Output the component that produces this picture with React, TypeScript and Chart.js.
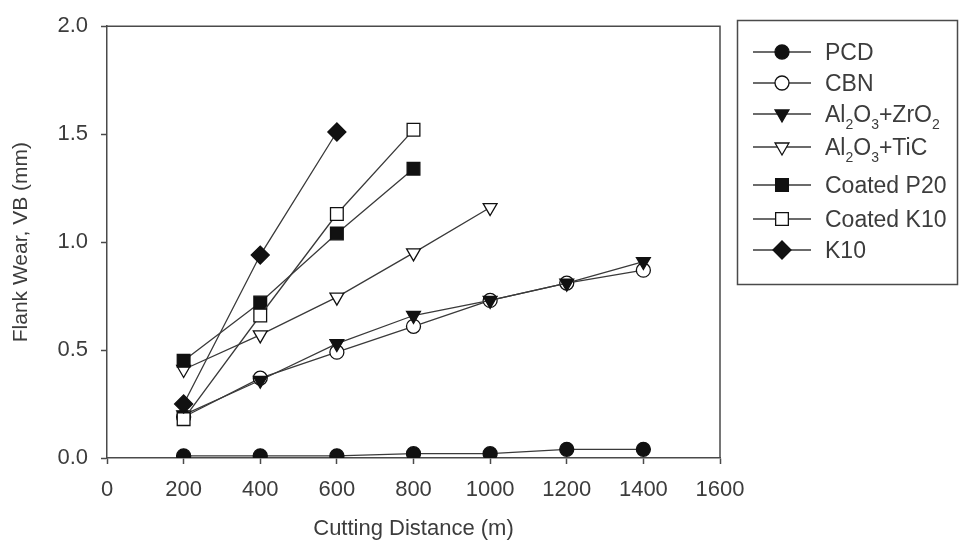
import React, { useEffect, useRef } from 'react';
import { Chart, registerables } from 'chart.js';

Chart.register(...registerables);

// ---------- data ----------
const distances = [200, 400, 600, 800, 1000, 1200, 1400];
const pcdWear = [0.01, 0.01, 0.01, 0.02, 0.02, 0.04, 0.04];
const cbnWear = [0.19, 0.37, 0.49, 0.61, 0.73, 0.81, 0.87];
const zro2Wear = [0.2, 0.36, 0.53, 0.66, 0.73, 0.81, 0.91];
const ticWear = [0.41, 0.57, 0.745, 0.95, 1.16];
const p20Wear = [0.45, 0.72, 1.04, 1.34];
const coatedK10Wear = [0.18, 0.66, 1.13, 1.52];
const k10Wear = [0.25, 0.94, 1.51];
const seriesNames = ['PCD', 'CBN', 'Al₂O₃+ZrO₂', 'Al₂O₃+TiC', 'Coated P20', 'Coated K10', 'K10'];
const xTickValues = [0, 200, 400, 600, 800, 1000, 1200, 1400, 1600];
const yTickValues = [0, 0.5, 1.0, 1.5, 2.0];
const xTitle = 'Cutting Distance (m)';
const yTitle = 'Flank Wear, VB (mm)';

// ---------- styles ----------
const FONT = "'Liberation Sans', Arial, Helvetica, sans-serif";
const TEXT = '#3c3c3c';
const AXIS = '#4a4a4a';
const LINE = '#3a3a3a';
const INK = '#111111';
const legendRowY = [52, 83, 114, 147, 185, 219, 250];

type Marker = { style: string; rot: number; r: number; filled: boolean };
const markers: Marker[] = [
  { style: 'circle', rot: 0, r: 7, filled: true },
  { style: 'circle', rot: 0, r: 7, filled: false },
  { style: 'triangle', rot: 180, r: 8, filled: true },
  { style: 'triangle', rot: 180, r: 8, filled: false },
  { style: 'rect', rot: 0, r: 9, filled: true },
  { style: 'rect', rot: 0, r: 9, filled: false },
  { style: 'rectRot', rot: 0, r: 9, filled: true },
];
const seriesValues = [pcdWear, cbnWear, zro2Wear, ticWear, p20Wear, coatedK10Wear, k10Wear];

function drawMarker(ctx: CanvasRenderingContext2D, m: Marker, x: number, y: number) {
  const r = m.r;
  const rad = (m.rot * Math.PI) / 180;
  ctx.beginPath();
  if (m.style === 'circle') {
    ctx.arc(x, y, r, 0, Math.PI * 2);
  } else if (m.style === 'triangle') {
    let a = rad;
    ctx.moveTo(x + Math.sin(a) * r, y - Math.cos(a) * r);
    a += (2 * Math.PI) / 3;
    ctx.lineTo(x + Math.sin(a) * r, y - Math.cos(a) * r);
    a += (2 * Math.PI) / 3;
    ctx.lineTo(x + Math.sin(a) * r, y - Math.cos(a) * r);
    ctx.closePath();
  } else if (m.style === 'rect') {
    const s = Math.SQRT1_2 * r;
    ctx.rect(x - s, y - s, 2 * s, 2 * s);
  } else {
    ctx.moveTo(x - r, y);
    ctx.lineTo(x, y - r);
    ctx.lineTo(x + r, y);
    ctx.lineTo(x, y + r);
    ctx.closePath();
  }
  ctx.fillStyle = m.filled ? INK : '#ffffff';
  ctx.fill();
  ctx.strokeStyle = INK;
  ctx.lineWidth = 1.3;
  ctx.stroke();
}

const SUB: Record<string, string> = { '₂': '2', '₃': '3' };

function drawRichText(ctx: CanvasRenderingContext2D, text: string, x: number, yMid: number, size: number) {
  const base = yMid + size * 0.36;
  let cx = x;
  let buf = '';
  const flush = () => {
    if (!buf) return;
    ctx.font = `${size}px ${FONT}`;
    ctx.fillText(buf, cx, base);
    cx += ctx.measureText(buf).width;
    buf = '';
  };
  for (const ch of text) {
    if (SUB[ch]) {
      flush();
      const s = Math.round(size * 0.62);
      ctx.font = `${s}px ${FONT}`;
      ctx.fillText(SUB[ch], cx, base + size * 0.28);
      cx += ctx.measureText(SUB[ch]).width;
    } else {
      buf += ch;
    }
  }
  flush();
}

const framePlugin = {
  id: 'frame',
  afterDatasetsDraw(chart: any) {
    const { ctx, chartArea } = chart;
    ctx.save();
    ctx.strokeStyle = AXIS;
    ctx.lineWidth = 1.5;
    ctx.beginPath();
    ctx.moveTo(chartArea.left, chartArea.top);
    ctx.lineTo(chartArea.right, chartArea.top);
    ctx.lineTo(chartArea.right, chartArea.bottom);
    ctx.stroke();
    ctx.restore();
  },
};

const legendPlugin = {
  id: 'boxLegend',
  afterDraw(chart: any) {
    const ctx: CanvasRenderingContext2D = chart.ctx;
    ctx.save();
    ctx.strokeStyle = AXIS;
    ctx.lineWidth = 1.5;
    ctx.strokeRect(737.5, 20.5, 220, 264);
    chart.data.datasets.forEach((ds: any, i: number) => {
      const y = legendRowY[i];
      ctx.beginPath();
      ctx.moveTo(753, y);
      ctx.lineTo(811, y);
      ctx.strokeStyle = LINE;
      ctx.lineWidth = 1.3;
      ctx.stroke();
      drawMarker(ctx, markers[i], 782, y);
      ctx.fillStyle = TEXT;
      ctx.textAlign = 'left';
      ctx.textBaseline = 'alphabetic';
      drawRichText(ctx, ds.label, 825, y, 23);
    });
    ctx.restore();
  },
};

export default function App() {
  const ref = useRef<HTMLCanvasElement | null>(null);

  useEffect(() => {
    if (!ref.current) return;
    const n = seriesNames.length;
    const datasets = seriesNames.map((name, i) => {
      const m = markers[i];
      return {
        label: name,
        data: seriesValues[i].map((v, j) => ({ x: distances[j], y: v })),
        order: n - i,
        borderColor: LINE,
        borderWidth: 1.3,
        pointStyle: m.style,
        pointRotation: m.rot,
        pointRadius: m.r,
        pointBackgroundColor: m.filled ? INK : '#ffffff',
        pointBorderColor: INK,
        pointBorderWidth: 1.3,
        fill: false,
        tension: 0,
      };
    });

    const chart = new Chart(ref.current, {
      type: 'line',
      data: { datasets } as any,
      options: {
        responsive: false,
        animation: false,
        layout: { padding: { top: 20, right: 246, left: 0, bottom: 0 } },
        plugins: { legend: { display: false }, tooltip: { enabled: false } },
        scales: {
          x: {
            type: 'linear',
            min: 0,
            max: 1600,
            afterBuildTicks: (s: any) => {
              s.ticks = xTickValues.map((v) => ({ value: v }));
            },
            afterFit: (s: any) => {
              s.height = 96;
            },
            ticks: {
              color: TEXT,
              font: { family: FONT, size: 22 },
              padding: 13,
              maxRotation: 0,
              autoSkip: false,
              callback: (v: any) => String(v),
            },
            grid: {
              drawOnChartArea: false,
              drawTicks: true,
              tickLength: 6,
              tickColor: AXIS,
              tickWidth: 1.5,
            },
            border: { color: AXIS, width: 1.5 },
            title: {
              display: true,
              text: xTitle,
              color: TEXT,
              font: { family: FONT, size: 22 },
              padding: { top: 0, bottom: 12 },
            },
          },
          y: {
            type: 'linear',
            min: 0,
            max: 2,
            afterBuildTicks: (s: any) => {
              s.ticks = yTickValues.map((v) => ({ value: v }));
            },
            afterFit: (s: any) => {
              s.width = 107;
            },
            ticks: {
              color: TEXT,
              font: { family: FONT, size: 22 },
              padding: 13,
              callback: (v: any) => Number(v).toFixed(1),
            },
            grid: {
              drawOnChartArea: false,
              drawTicks: true,
              tickLength: 6,
              tickColor: AXIS,
              tickWidth: 1.5,
            },
            border: { color: AXIS, width: 1.5 },
            title: {
              display: true,
              text: yTitle,
              color: TEXT,
              font: { family: FONT, size: 21 },
              padding: { top: 9, bottom: 0 },
            },
          },
        },
      } as any,
      plugins: [framePlugin, legendPlugin],
    });
    return () => chart.destroy();
  }, []);

  return (
    <div style={{ position: 'absolute', left: 0, top: 0, width: 966, height: 554, background: '#fff' }}>
      <canvas ref={ref} width={966} height={554} style={{ display: 'block' }} />
    </div>
  );
}
